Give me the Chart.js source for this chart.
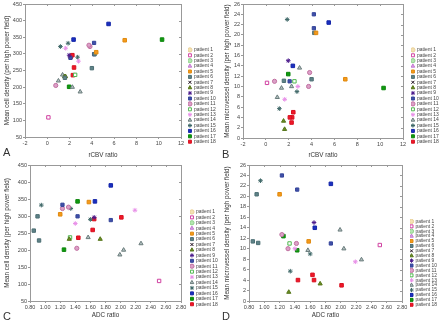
<!DOCTYPE html>
<html>
<head>
<meta charset="utf-8">
<script src="https://cdn.jsdelivr.net/npm/chart.js@4.4.0/dist/chart.umd.min.js"></script>
<style>
body { margin: 0; background: #fff; }
#wrap { position: relative; width: 440px; height: 322px; overflow: hidden; }
.panel { position: absolute; width: 220px; height: 161px; }
.tag { position: absolute; font: 11px "Liberation Sans", Arial, sans-serif; line-height: 11px; color: #333; }
</style>
</head>
<body>
<div id="wrap">
	<div class="panel" style="left:0;top:0"><canvas id="chartA" width="220" height="161"></canvas></div>
	<div class="panel" style="left:220px;top:0"><canvas id="chartB" width="220" height="161"></canvas></div>
	<div class="panel" style="left:0;top:161px"><canvas id="chartC" width="220" height="161"></canvas></div>
	<div class="panel" style="left:220px;top:161px"><canvas id="chartD" width="220" height="161"></canvas></div>
	<div class="tag" style="left:3px;top:147px">A</div>
	<div class="tag" style="left:222px;top:149px">B</div>
	<div class="tag" style="left:3px;top:311px">C</div>
	<div class="tag" style="left:222px;top:311px">D</div>
</div>
<script>
// one entry per biopsy sample
var patientNo   = [15,10,10,16,6,5,9,16,14,17,11,6,6,10,12,5,2,11,14,14,13,17,11,15,14,13,15,18,18,18,18,8,8];
var rcbvRatio   = [1.87,4.2,4.2,5.5,4.24,4.39,1.96,2.36,2.95,1.96,3.83,1.58,4.0,2.08,2.5,6.95,0.1,0.76,1.37,2.25,2.8,10.3,3.74,2.72,1.0,1.65,1.18,2.4,2.3,2.1,2.25,1.55,1.64];
var adcRatio    = [0.95,1.23,1.43,1.87,0.90,1.20,1.65,1.66,1.99,1.25,1.23,0.92,0.85,1.87,1.33,1.58,2.51,1.42,1.57,2.04,1.40,1.43,1.31,1.60,2.27,2.19,1.34,1.63,1.44,1.65,2.01,1.73,1.32];
var cellDensity = [332,333,299,390,299,305,296,343,186,201,322,228,257,288,237,341,109,205,237,200,278,343,326,290,219,317,322,259,236,291,296,232,232];
var mvd         = [23.0,24.0,21.3,22.4,20.4,20.4,15.0,14.0,13.6,12.4,12.7,11.1,11.4,11.0,11.0,11.4,10.7,11.0,9.7,10.0,10.0,9.7,10.0,9.0,7.9,7.5,5.7,5.0,4.0,4.0,3.0,3.3,1.7];

var patientLabels = [];
for (var p = 1; p <= 18; p++) patientLabels.push("patient " + p);

// marker look per patient
var ptStyle = ['circle','rect','circle','triangle','rect','rect','crossRot','triangle','star','rect','circle','rect','star','triangle','star','rect','rect','rect'];
var ptFill  = ['#f4e2b4','#ffffff','#b4e6b0','#dca0e6','#f59a1a','#5f8388','#1a0a1a','#6b8e23','#4b1a8c','#4050a8','#dca0c8','#ffffff','#f0a8f0','#b4c2c2','#3f6868','#1a2fc0','#109a10','#f01828'];
var ptLine  = ['#e8cf96','#d040a0','#8ccf88','#c27ad0','#e08a10','#4d6f74','#1a0a1a','#55751a','#4b1a8c','#34449a','#c070a0','#50b850','#e890e8','#6a7c7c','#3f6868','#1526a8','#0c860c','#d81020'];
var ptSize  = [2,2.4,2,2.4,2.5,2.4,2.3,2.4,2.3,2.3,2.1,2.4,2.3,2.4,2.3,2.5,2.5,2.5];

var legendPos = {
	id: 'legendPos',
	afterLayout: function(chart, args, o) {
		var lg = chart.legend;
		if (!lg) return;
		lg.left = o.x;
		lg.right = o.x + 40;
		lg.top = o.y;
		lg.bottom = o.y + 200;
	}
};

var frame = {
	id: 'frame',
	beforeDatasetsDraw: function(chart) {
		var ctx = chart.ctx, a = chart.chartArea;
		ctx.save();
		ctx.strokeStyle = '#999';
		ctx.lineWidth = 1;
		ctx.beginPath();
		ctx.moveTo(a.left, Math.round(a.top) + 0.5);
		ctx.lineTo(Math.round(a.right) + 0.5, Math.round(a.top) + 0.5);
		ctx.lineTo(Math.round(a.right) + 0.5, a.bottom);
		chart.scales.x.ticks.forEach(function(t) {
			var px = Math.round(chart.scales.x.getPixelForValue(t.value)) + 0.5;
			ctx.moveTo(px, a.top);
			ctx.lineTo(px, a.top + 2);
		});
		chart.scales.y.ticks.forEach(function(t) {
			var py = Math.round(chart.scales.y.getPixelForValue(t.value)) + 0.5;
			ctx.moveTo(a.right, py);
			ctx.lineTo(a.right - 2, py);
		});
		ctx.stroke();
		ctx.restore();
	}
};

Chart.defaults.font.family = '"Liberation Sans", Arial, sans-serif';

function makePanel(id, xs, ys, c) {
	var datasets = [];
	for (var p = 1; p <= 18; p++) {
		var pts = [];
		for (var i = 0; i < patientNo.length; i++) {
			if (patientNo[i] === p) pts.push({x: xs[i], y: ys[i]});
		}
		datasets.push({
			label: patientLabels[p - 1],
			data: pts,
			pointStyle: ptStyle[p - 1],
			pointRadius: ptSize[p - 1],
			backgroundColor: ptFill[p - 1],
			borderColor: ptLine[p - 1],
			borderWidth: 1
		});
	}
	return new Chart(document.getElementById(id), {
		type: 'scatter',
		data: { datasets: datasets },
		plugins: [legendPos, frame],
		options: {
			responsive: false,
			animation: false,
			events: [],
			layout: { autoPadding: false, padding: { left: 0, top: c.top, right: c.right, bottom: 0 } },
			plugins: {
				tooltip: { enabled: false },
				legend: {
					position: 'chartArea',
					align: 'start',
					labels: {
						usePointStyle: true,
						boxWidth: 3,
						boxHeight: 3,
						padding: c.legPad,
						color: '#444',
						font: { size: c.legFont }
					}
				},
				legendPos: { x: c.legX, y: c.legY }
			},
			scales: {
				x: {
					type: 'linear',
					min: c.xMin, max: c.xMax,
					afterFit: function(s) { s.height = c.xH; s.paddingLeft = 0; s.paddingRight = 0; },
					border: { color: '#999' },
					grid: { display: true, drawOnChartArea: false, tickLength: 2, color: '#999' },
					ticks: {
						stepSize: c.xStep, padding: 1, color: '#444', font: { size: 5.5 },
						maxRotation: 0, autoSkip: false,
						callback: function(v) { return c.xFmt ? v.toFixed(2) : v; }
					},
					title: { display: true, text: c.xTitle, color: '#333', font: { size: 6.3 }, padding: { top: 0, bottom: c.xTitlePad } }
				},
				y: {
					type: 'linear',
					min: c.yMin, max: c.yMax,
					afterFit: function(s) { s.width = c.yW; s.paddingTop = 0; s.paddingBottom = 0; },
					border: { color: '#999' },
					grid: { display: true, drawOnChartArea: false, tickLength: 2, color: '#999' },
					ticks: { stepSize: c.yStep, padding: 1, color: '#444', font: { size: 5.5 }, autoSkip: false },
					title: { display: true, text: c.yTitle, color: '#333', font: { size: 6.3 }, padding: { top: 3, bottom: 0 } }
				}
			}
		}
	});
}

var cellTitle = "Mean cell density (per high power field)";
var mvdTitle = "Mean microvessel density (per high power field)";

makePanel('chartA', rcbvRatio, cellDensity, {
	top: 4, right: 39, yW: 25, xH: 24,
	xMin: -2, xMax: 12, xStep: 2, yMin: 50, yMax: 450, yStep: 50,
	xTitle: "rCBV ratio", yTitle: cellTitle, xTitlePad: 2.2,
	legX: 188, legY: 47, legPad: 0.4, legFont: 5
});
makePanel('chartB', rcbvRatio, mvd, {
	top: 4, right: 37, yW: 23, xH: 23,
	xMin: -2, xMax: 12, xStep: 2, yMin: 0, yMax: 26, yStep: 2,
	xTitle: "rCBV ratio", yTitle: mvdTitle, xTitlePad: 2.2,
	legX: 191, legY: 47, legPad: 0.4, legFont: 5
});
makePanel('chartC', adcRatio, cellDensity, {
	top: 4, right: 39, yW: 30, xH: 21,
	xMin: 0.8, xMax: 2.8, xStep: 0.2, yMin: 50, yMax: 450, yStep: 50, xFmt: true,
	xTitle: "ADC ratio", yTitle: cellTitle, xTitlePad: 2.5,
	legX: 190, legY: 48, legPad: 0.43, legFont: 5
});
makePanel('chartD', adcRatio, mvd, {
	top: 4, right: 38, yW: 29, xH: 21,
	xMin: 0.8, xMax: 2.8, xStep: 0.2, yMin: 0, yMax: 26, yStep: 2, xFmt: true,
	xTitle: "ADC ratio", yTitle: mvdTitle, xTitlePad: 2.5,
	legX: 190, legY: 58, legPad: 0, legFont: 4.9
});
</script>
</body>
</html>
